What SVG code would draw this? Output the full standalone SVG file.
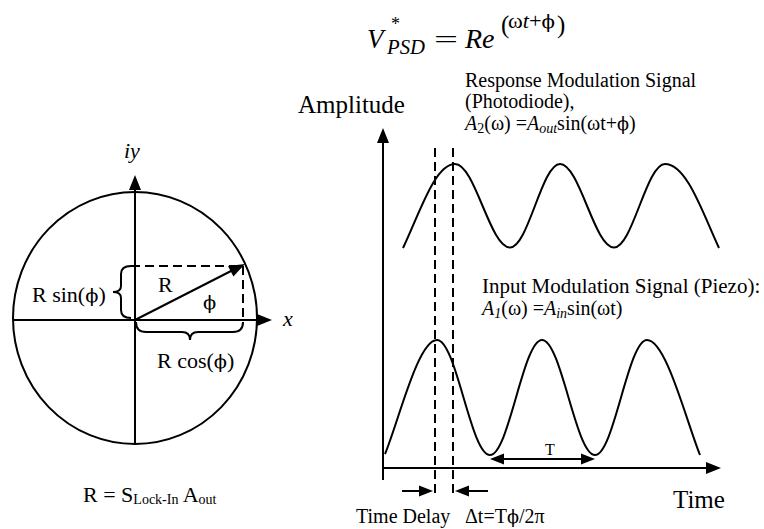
<svg xmlns="http://www.w3.org/2000/svg" width="764" height="529" viewBox="0 0 764 529">
<style>
  text { font-family: "Liberation Serif", "Times New Roman", serif; fill: #000; }
  .it { font-style: italic; }
  .phi { font-family: "DejaVu Serif", serif; font-size: 0.88em; font-style: normal; }
  .ln { stroke: #000; stroke-width: 2; fill: none; }
  .dash { stroke: #000; stroke-width: 2; fill: none; stroke-dasharray: 9 5; }
  .head { fill: #000; stroke: none; }
  .f22 { font-size: 22px; }
  .f20 { font-size: 20px; }
  .f25 { font-size: 25px; }
</style>
<rect width="764" height="529" fill="#fff"/>

<g id="equation">
  <text x="367" y="48" class="it" font-size="27">V</text>
  <text x="391" y="30" font-size="18">*</text>
  <text x="387" y="54" class="it" font-size="20" textLength="38" lengthAdjust="spacingAndGlyphs">PSD</text>
  <text x="434" y="48" font-size="26" textLength="24" lengthAdjust="spacingAndGlyphs">=</text>
  <text x="465" y="48" class="it" font-size="28">Re</text>
  <text x="501" y="33" font-size="25">(</text>
  <text x="508" y="28" font-size="20" textLength="47" lengthAdjust="spacingAndGlyphs">ω<tspan class="it">t</tspan>+<tspan class="phi">ϕ</tspan></text>
  <text x="557" y="33" font-size="25">)</text>
</g>

<g id="phasor">
  <ellipse cx="135" cy="318" rx="122" ry="126" class="ln" stroke-width="1.8"/>
  <line x1="135" y1="444" x2="135" y2="188" class="ln"/>
  <polygon class="head" points="135,175 129,190 141,190"/>
  <line x1="13" y1="320" x2="259" y2="320" class="ln"/>
  <polygon class="head" points="272,320 257,314 257,326"/>
  <line x1="135" y1="320" x2="233" y2="270" class="ln"/>
  <polygon class="head" points="245,264 233.4,276.6 228,266"/>
  <line x1="131" y1="266" x2="243" y2="266" class="dash"/>
  <line x1="243" y1="266" x2="243" y2="320" class="dash"/>
  <path class="ln" d="M131,266 Q121,266 121,274 L121,286 Q121,292 113,292 Q121,292 121,298 L121,310 Q121,318 131,318"/>
  <path class="ln" d="M136,322 Q136,332 146,332 L182,332 Q190,332 190,340 Q190,332 198,332 L233,332 Q243,332 243,322"/>
  <text x="124" y="158" class="it f22">iy</text>
  <text x="283" y="326" class="it f22">x</text>
  <text x="32" y="302" class="f22">R sin(<tspan class="phi">ϕ</tspan>)</text>
  <text x="158" y="292" class="f22">R</text>
  <text x="203" y="309" class="f22"><tspan class="phi">ϕ</tspan></text>
  <text x="157" y="368" class="f22">R cos(<tspan class="phi">ϕ</tspan>)</text>
  <text x="83" y="502" class="f22">R = S<tspan font-size="14" dy="2">Lock-In</tspan><tspan dy="-2"> A</tspan><tspan font-size="14" dy="2">out</tspan></text>
</g>

<g id="axes">
  <line x1="383" y1="480" x2="383" y2="141" class="ln"/>
  <polygon class="head" points="383,128 377,143 389,143"/>
  <line x1="383" y1="468" x2="708" y2="468" class="ln"/>
  <polygon class="head" points="721,468 706,462 706,474"/>
  <text x="298" y="113" class="f25">Amplitude</text>
  <text x="673" y="508" class="f25">Time</text>
</g>

<g id="response-signal">
  <path class="ln" d="M403,248 C420,212 435,164 455,164 C475,164 490,247.5 510,247.5 C528.2,247.5 541.8,164 560,164 C579.6,164 594.4,247.5 614,247.5 C632.5,247.5 646.5,164 665,164 C687,164 703,214 719,248"/>
  <text x="465" y="87" class="f20">Response Modulation Signal</text>
  <text x="465" y="108" class="f20">(Photodiode),</text>
  <text x="465" y="130" class="f20"><tspan class="it">A</tspan><tspan font-size="14" dy="3">2</tspan><tspan dy="-3">(ω) =</tspan><tspan class="it">A</tspan><tspan class="it" font-size="14" dy="3">out</tspan><tspan dy="-3">sin(ωt+</tspan><tspan class="phi">ϕ</tspan>)</text>
</g>

<g id="input-signal">
  <path class="ln" d="M385,454 C399,420 418,340 437,340 C456.3,340 470.7,455 490,455 C508.9,455 523.1,340 542,340 C561.3,340 575.7,455 595,455 C613.9,455 628.1,340 647,340 C666,340 686,420 700,455"/>
  <text x="482" y="293" font-size="21">Input Modulation Signal (Piezo):</text>
  <text x="482" y="315" class="f20"><tspan class="it">A</tspan><tspan class="it" font-size="14" dy="3">1</tspan><tspan dy="-3">(ω) =</tspan><tspan class="it">A</tspan><tspan class="it" font-size="14" dy="3">in</tspan><tspan dy="-3">sin(ωt)</tspan></text>
</g>

<g id="connectors">
  <line x1="435" y1="148" x2="435" y2="497" class="dash"/>
  <line x1="453" y1="148" x2="453" y2="497" class="dash"/>
  <line x1="402" y1="491" x2="421" y2="491" class="ln"/>
  <polygon class="head" points="433,491 419,485.5 419,496.5"/>
  <line x1="467" y1="491" x2="488" y2="491" class="ln"/>
  <polygon class="head" points="455,491 469,485.5 469,496.5"/>
  <line x1="502" y1="459" x2="583" y2="459" class="ln"/>
  <polygon class="head" points="490,459 504,453.5 504,464.5"/>
  <polygon class="head" points="595,459 581,453.5 581,464.5"/>
</g>

<g id="labels">
  <text x="550" y="455" font-size="16" text-anchor="middle">T</text>
  <text x="356" y="523" class="f20">Time Delay</text>
  <text x="465" y="523" class="f20">Δt=T<tspan class="phi">ϕ</tspan>/2π</text>
</g>
</svg>
